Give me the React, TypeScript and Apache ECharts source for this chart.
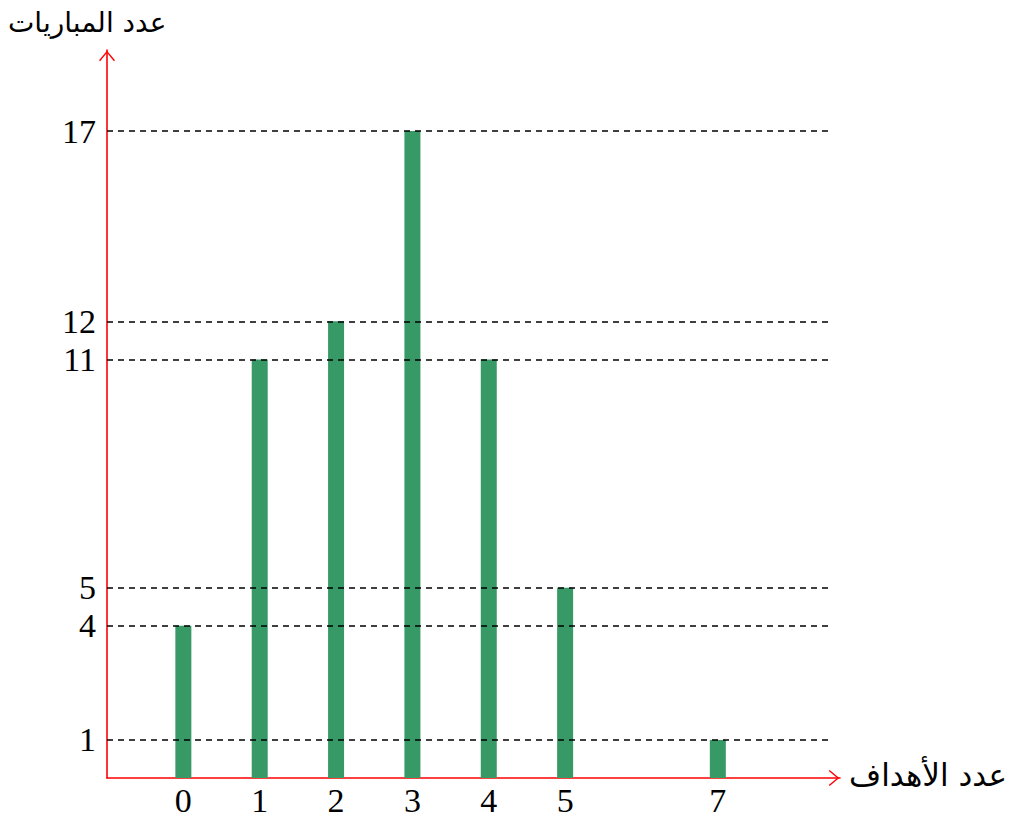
import React, { useEffect, useRef } from "react";
import * as echarts from "echarts";

const goals = [0, 1, 2, 3, 4, 5, 7];
const matches = [4, 11, 12, 17, 11, 5, 1];
const yTickLabels = [1, 4, 5, 11, 12, 17];
const xTickLabels = [0, 1, 2, 3, 4, 5, 7];
const xAxisName = "عدد الأهداف";
const yAxisName = "عدد المباريات";

const arrowPath =
  "path://M0,0 L10,12 L8.6,13.2 L0,2.6 L-8.6,13.2 L-10,12 Z";

export default function App() {
  const ref = useRef<HTMLDivElement>(null);
  useEffect(() => {
    document.body.style.margin = "0";
    const chart = echarts.init(ref.current!, null, { renderer: "svg" });
    const serif = "Liberation Serif";
    const arabic = "DejaVu Sans";
    const axisLine = {
      show: true,
      onZero: false,
      lineStyle: { color: "#ff0000", width: 1.6 },
      symbol: ["none", arrowPath],
      symbolSize: [16, 17],
      symbolOffset: [0, -6],
    };
    chart.setOption({
      animation: false,
      backgroundColor: "#ffffff",
      grid: { left: 107, right: 176, top: 50, bottom: 41, containLabel: false },
      xAxis: {
        type: "value",
        min: -1,
        max: 8.6,
        interval: 1,
        splitLine: { show: false },
        axisTick: { show: false },
        axisLine,
        axisLabel: {
          customValues: xTickLabels,
          color: "#000",
          fontFamily: serif,
          fontSize: 34,
          margin: 5,
        },
      },
      yAxis: {
        type: "value",
        min: 0,
        max: 19.13,
        interval: 1,
        splitLine: { show: false },
        axisTick: { show: false },
        axisLine,
        axisLabel: {
          customValues: yTickLabels,
          color: "#000",
          fontFamily: serif,
          fontSize: 34,
          margin: 11,
        },
      },
      graphic: [
        {
          type: "text",
          left: 8,
          top: 8,
          style: { text: yAxisName, font: `28px ${arabic}`, fill: "#000" },
        },
        {
          type: "text",
          left: 849,
          top: 759,
          style: { text: xAxisName, font: `31px ${arabic}`, fill: "#000" },
        },
      ],
      series: [
        {
          type: "bar",
          data: goals.map((g, i) => [g, matches[i]]),
          barWidth: 16,
          itemStyle: { color: "#379966" },
          markLine: {
            silent: true,
            symbol: "none",
            label: { show: false },
            lineStyle: { color: "#000", width: 1.5, type: [6, 5] },
            data: yTickLabels.map((v) => [
              { coord: [-1, v] },
              { coord: [8.48, v] },
            ]),
          },
        },
      ],
    });
    return () => chart.dispose();
  }, []);
  return <div ref={ref} style={{ width: 1016, height: 819 }} />;
}
